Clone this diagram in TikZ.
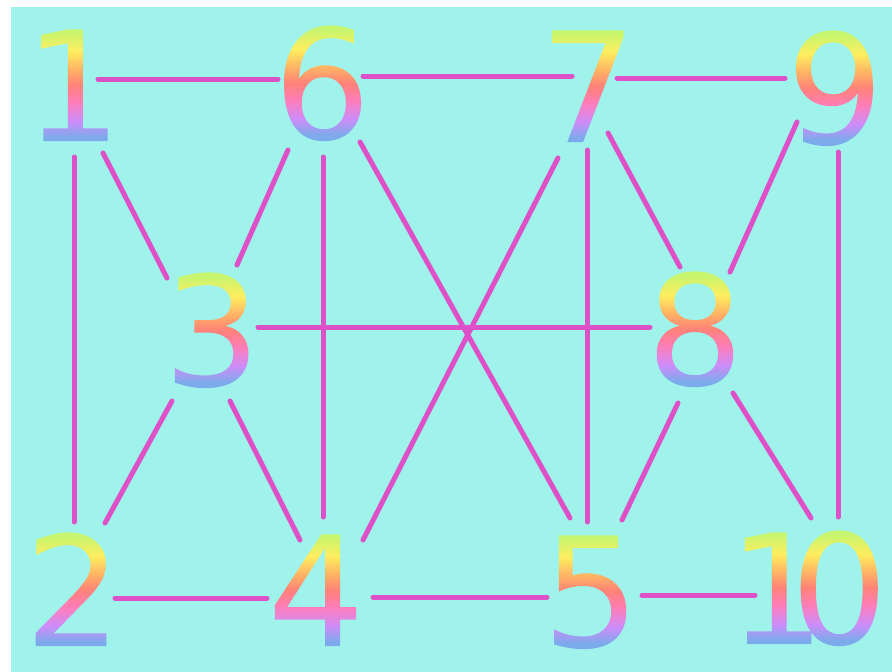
\documentclass[tikz,border=0pt]{standalone}
\usepackage{fontspec}
\newfontfamily\dvfont{DejaVu Sans}
\usetikzlibrary{calc}
\newcommand\digfont{\dvfont\fontsize{153pt}{153pt}\selectfont}
\newcommand\tenstr{1\kern-35pt0}
\definecolor{bgc}{RGB}{160,243,235}
\definecolor{edgec}{RGB}{222,80,200}
\definecolor{digc}{RGB}{255,140,140}
\definecolor{rbBlue}{RGB}{125,170,235}
\definecolor{rbViolet}{RGB}{205,140,250}
\definecolor{rbPink}{RGB}{255,125,185}
\definecolor{rbSalmon}{RGB}{255,130,120}
\definecolor{rbOrange}{RGB}{255,180,100}
\definecolor{rbYellow}{RGB}{255,238,95}
\definecolor{rbLime}{RGB}{200,245,110}
% vertical rainbow, baseline at 4pt, digit top at about 115pt
\pgfdeclareverticalshading{rbshade}{220pt}{color(0pt)=(rbBlue); color(8pt)=(rbBlue); color(24pt)=(rbViolet); color(43pt)=(rbPink); color(60pt)=(rbSalmon); color(76pt)=(rbOrange); color(94pt)=(rbYellow); color(113pt)=(rbLime); color(122pt)=(rbLime)}
\newlength\rbwd
% text used as a clipping path (render mode 7), then filled with the rainbow
\newcommand\rbtext[1]{%
  \settowidth\rbwd{#1}%
  \rlap{\special{pdf:code q 7 Tr}#1\special{pdf:code 0 Tr}%
    \kern-\rbwd\kern-20pt\raisebox{-4pt}{\pgfuseshading{rbshade}}%
    \special{pdf:code Q}}%
  \phantom{#1}}
\tikzset{
  digit/.style={font=\digfont, inner sep=0pt, text=digc},
  edge/.style={draw=edgec, line width=5pt, line cap=round}
}
\begin{document}
\begin{tikzpicture}[x=1pt,y=-1pt]
\useasboundingbox (0,0) rectangle (892,672);
\fill[white] (0,0) rectangle (892,672);
\fill[bgc] (11,7) rectangle (892,672);
\node[digit] (n1) at (73,84) {\rbtext{1}};
\node[digit] (n6) at (322,82) {\rbtext{6}};
\node[digit] (n7) at (588,85) {\rbtext{7}};
\node[digit] (n9) at (835,87) {\rbtext{9}};
\node[digit] (n3) at (212,329) {\rbtext{3}};
\node[digit] (n8) at (695,328) {\rbtext{8}};
\node[digit] (n2) at (73,589) {\rbtext{2}};
\node[digit] (n4) at (316,589) {\rbtext{4}};
\node[digit] (n5) at (591,590) {\rbtext{5}};
\node[digit] (n10) at (808,587) {\rbtext{\tenstr}};
% top row
\draw[edge] ($(n1)+(25,-5)$) -- ($(n6)+(-44,-3)$);
\draw[edge] ($(n6)+(41,-6)$) -- ($(n7)+(-16,-9)$);
\draw[edge] ($(n7)+(29,-7)$) -- ($(n9)+(-50,-9)$);
% verticals
\draw[edge] ($(n1)+(1,73)$) -- ($(n2)+(1,-67)$);
\draw[edge] ($(n6)+(1,75)$) -- ($(n4)+(7,-72)$);
\draw[edge] ($(n7)+(-1,65)$) -- ($(n5)+(-4,-68)$);
\draw[edge] ($(n9)+(3,65)$) -- ($(n10)+(30,-70)$);
% diagonals
\draw[edge] ($(n1)+(30,69)$) -- ($(n3)+(-45,-51)$);
\draw[edge] ($(n6)+(-34,68)$) -- ($(n3)+(25,-64)$);
\draw[edge] ($(n6)+(38,60)$) -- ($(n5)+(-21,-72)$);
\draw[edge] ($(n7)+(-30,73)$) -- ($(n4)+(47,-49)$);
\draw[edge] ($(n7)+(20,48)$) -- ($(n8)+(-15,-61)$);
\draw[edge] ($(n9)+(-38,35)$) -- ($(n8)+(35,-56)$);
\draw[edge] ($(n3)+(-40,72)$) -- ($(n2)+(32,-66)$);
\draw[edge] ($(n3)+(18,72)$) -- ($(n4)+(-16,-49)$);
\draw[edge] ($(n8)+(-17,75)$) -- ($(n5)+(31,-70)$);
\draw[edge] ($(n8)+(38,65)$) -- ($(n10)+(3,-69)$);
% middle
\draw[edge] ($(n3)+(46,-2)$) -- ($(n8)+(-45,-1)$);
% bottom row
\draw[edge] ($(n2)+(42,9)$) -- ($(n4)+(-49,9)$);
\draw[edge] ($(n4)+(57,8)$) -- ($(n5)+(-44,7)$);
\draw[edge] ($(n5)+(51,5)$) -- ($(n10)+(-53,8)$);
\end{tikzpicture}
\end{document}
